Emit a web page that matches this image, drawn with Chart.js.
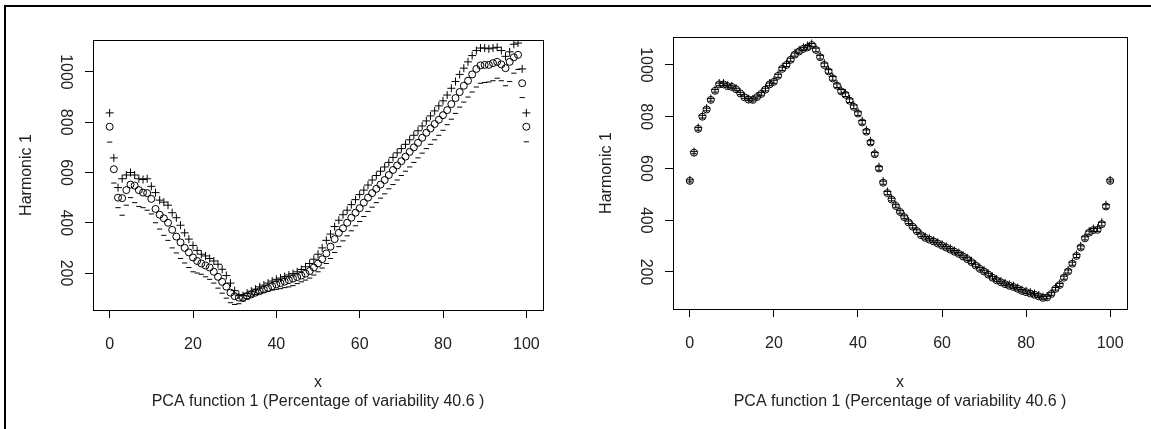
<html lang="en">
  <head>
    <meta charset="UTF-8" />
    <title>PCA harmonics</title>
    <style>
      body { margin: 0; background: #fff; }
      .frame { position: absolute; left: 4px; top: 5px; width: 1200px; height: 500px;
               border-left: 2px solid #000; border-top: 2px solid #000; }
      canvas { position: absolute; top: 0; }
    </style>
  </head>
  <body>
    <div class="frame"></div>
    <canvas id="left" width="576" height="429" style="left:0"></canvas>
    <canvas id="right" width="575" height="429" style="left:576px"></canvas>
  </body>
  <script src="https://cdn.jsdelivr.net/npm/chart.js@4"></script>
  <script>
    // sampling grid 0..100
    const xs = Array.from({ length: 101 }, (_, i) => i);
    const xTicks = [0, 20, 40, 60, 80, 100];
    const yTicks = [200, 400, 600, 800, 1000];
    const yTitle = "Harmonic 1";
    const xTitle = ["x", "PCA function 1 (Percentage of variability 40.6 )"];

    // left panel: mean (o), mean + harmonic (+), mean - harmonic (-)
    const leftMean = [
      782, 613, 500, 498, 530, 552, 548, 530, 520, 518,
      495, 455, 432, 418, 400, 372, 345, 322, 300, 282,
      262, 248, 238, 230, 222, 205, 185, 165, 146, 122,
      108, 102, 102, 108, 115, 122, 128, 134, 140, 148,
      155, 160, 166, 172, 178, 184, 190, 198, 208, 222,
      238, 255, 278, 305, 335, 360, 378, 400, 420, 440,
      458, 480, 500, 518, 535, 552, 570, 590, 610, 628,
      645, 663, 682, 700, 718, 738, 758, 775, 793, 810,
      828, 848, 872, 896, 920, 945, 965, 990, 1012, 1026,
      1028, 1028, 1035, 1040, 1030, 1015, 1040, 1058, 1068, 955,
      782
    ];
    const leftPlus = [
      837, 658, 540, 575, 590, 600, 590, 575, 572, 575,
      545, 520, 490, 482, 470, 440, 420, 390, 360, 335,
      310, 290, 275, 268, 258, 248, 235, 215, 190, 160,
      130, 112, 110, 120, 128, 136, 145, 152, 160, 168,
      175, 180, 186, 192, 198, 205, 214, 225, 238, 255,
      275, 300, 330, 355, 385, 410, 432, 450, 472, 492,
      512, 530, 550, 570, 588, 605, 622, 640, 660, 678,
      695, 712, 730, 748, 766, 785, 805, 825, 845, 865,
      885, 908, 935, 962, 990, 1015, 1040, 1065, 1085, 1095,
      1095, 1092, 1095, 1098, 1085, 1062, 1080, 1110, 1115, 1012,
      837
    ];
    const leftMinus = [
      721, 558, 460, 430, 470, 500, 480, 465, 460, 450,
      435, 400, 375, 350, 330, 300, 280, 258, 240, 222,
      205, 200, 195, 185, 175, 160, 140, 120, 100, 82,
      75, 78, 88, 98, 108, 115, 120, 124, 128, 132,
      135, 138, 142, 145, 150, 158, 165, 172, 180, 192,
      205, 220, 238, 258, 282, 305, 328, 348, 368, 388,
      405, 425, 445, 462, 480, 498, 515, 535, 552, 570,
      588, 605, 622, 640, 658, 677, 695, 712, 730, 748,
      768, 790, 812, 835, 860, 880, 900, 920, 940, 955,
      958, 960, 965, 975, 965, 945, 962, 995, 1010, 898,
      722
    ];

    // right panel
    const rightMean = [
      552, 661, 753, 800, 828, 865, 900, 925, 925, 918,
      915, 906, 890, 875, 866, 865, 876, 888, 905, 925,
      935, 958, 985, 1000, 1020, 1040, 1052, 1062, 1068, 1077,
      1058, 1030, 1000, 975, 948, 920, 898, 885, 862, 838,
      812, 778, 742, 700, 655, 600, 545, 505, 480, 455,
      432, 412, 392, 375, 358, 342, 332, 325, 318, 310,
      302, 294, 286, 278, 270, 260, 250, 238, 225, 212,
      202, 190, 178, 168, 160, 153, 147, 142, 135, 127,
      122, 117, 112, 106, 100, 102, 115, 135, 150, 178,
      202, 232, 262, 295, 330, 352, 362, 363, 385, 453,
      552
    ];
    const rightPlus = [
      556, 665, 758, 805, 833, 870, 905, 930, 930, 922,
      919, 910, 894, 879, 870, 869, 880, 893, 910, 930,
      941, 964, 991, 1006, 1026, 1046, 1058, 1068, 1075, 1083,
      1065, 1037, 1007, 982, 955, 927, 905, 892, 869, 845,
      819, 785, 749, 707, 662, 607, 551, 511, 485, 460,
      437, 417, 397, 380, 363, 347, 337, 330, 323, 315,
      307, 299, 291, 283, 275, 265, 255, 243, 230, 217,
      207, 195, 183, 173, 165, 158, 152, 147, 140, 132,
      127, 122, 117, 111, 105, 107, 120, 140, 156, 184,
      208, 238, 268, 301, 336, 358, 368, 369, 392, 460,
      556
    ];
    const rightMinus = [
      548, 657, 748, 795, 823, 860, 895, 920, 920, 914,
      911, 902, 886, 871, 862, 861, 872, 883, 900, 920,
      929, 952, 979, 994, 1014, 1034, 1046, 1056, 1061, 1071,
      1051, 1023, 993, 968, 941, 913, 891, 878, 855, 831,
      805, 771, 735, 693, 648, 593, 539, 499, 475, 450,
      427, 407, 387, 370, 353, 337, 327, 320, 313, 305,
      297, 289, 281, 273, 265, 255, 245, 233, 220, 207,
      197, 185, 173, 163, 155, 148, 142, 137, 130, 122,
      117, 112, 107, 101, 95, 97, 110, 130, 144, 172,
      196, 226, 256, 289, 324, 346, 356, 357, 378, 446,
      548
    ];

    const font = { family: "'Liberation Sans', Arial, sans-serif", size: 16 };
    const ink = "#222";

    const boxPlugin = {
      id: "box",
      afterDraw(chart) {
        const a = chart.chartArea, ctx = chart.ctx;
        ctx.save();
        ctx.strokeStyle = "#000";
        ctx.lineWidth = 1;
        ctx.strokeRect(Math.round(a.left) + 0.5, Math.round(a.top) + 0.5,
          Math.round(a.right - a.left), Math.round(a.bottom - a.top));
        ctx.restore();
      },
    };

    function pts(ys) {
      return xs.map((x, i) => ({ x: x, y: ys[i] }));
    }

    function makeChart(id, mean, plus, minus, cfg) {
      new Chart(document.getElementById(id), {
        type: "scatter",
        data: {
          datasets: [
            { data: pts(minus), pointStyle: "line", pointRadius: 2.6, borderColor: "#000", borderWidth: 1 },
            { data: pts(mean), pointStyle: "circle", pointRadius: 3.5, borderColor: "#000", backgroundColor: "rgba(0,0,0,0)", borderWidth: 1 },
            { data: pts(plus), pointStyle: "cross", pointRadius: 4, borderColor: "#000", borderWidth: 1 },
          ],
        },
        options: {
          responsive: false,
          animation: false,
          events: [],
          layout: { padding: cfg.padding },
          plugins: { legend: { display: false }, tooltip: { enabled: false } },
          scales: {
            x: {
              type: "linear",
              min: -4,
              max: 104,
              afterBuildTicks: (s) => { s.ticks = xTicks.map((v) => ({ value: v })); },
              afterFit: (s) => { s.height = cfg.xHeight; },
              grid: { drawOnChartArea: false, tickLength: 8, color: "#000" },
              border: { color: "#000" },
              ticks: { padding: 17, font: font, color: ink, autoSkip: false, maxRotation: 0, callback: (v) => String(v) },
              title: { display: true, text: xTitle, font: font, color: ink, padding: { top: 0, bottom: 17.4 } },
            },
            y: {
              type: "linear",
              min: cfg.yMin,
              max: cfg.yMax,
              afterBuildTicks: (s) => { s.ticks = yTicks.map((v) => ({ value: v })); },
              afterFit: (s) => { s.width = 93; },
              grid: { drawOnChartArea: false, tickLength: 8, color: "#000" },
              border: { color: "#000" },
              ticks: { padding: 2.2, font: font, color: ink, autoSkip: false, minRotation: -90, crossAlign: "center", callback: (v) => String(v) },
              title: { display: true, text: yTitle, font: font, color: ink, padding: { top: 16.9, bottom: 0 } },
            },
          },
        },
        plugins: [boxPlugin],
      });
    }

    makeChart("left", leftMean, leftPlus, leftMinus, {
      padding: { left: 0, top: 40, right: 33, bottom: 0 },
      xHeight: 119, yMin: 53, yMax: 1127,
    });
    makeChart("right", rightMean, rightPlus, rightMinus, {
      padding: { left: 4, top: 37, right: 24, bottom: 0 },
      xHeight: 120, yMin: 57, yMax: 1108,
    });
  </script>
</html>
